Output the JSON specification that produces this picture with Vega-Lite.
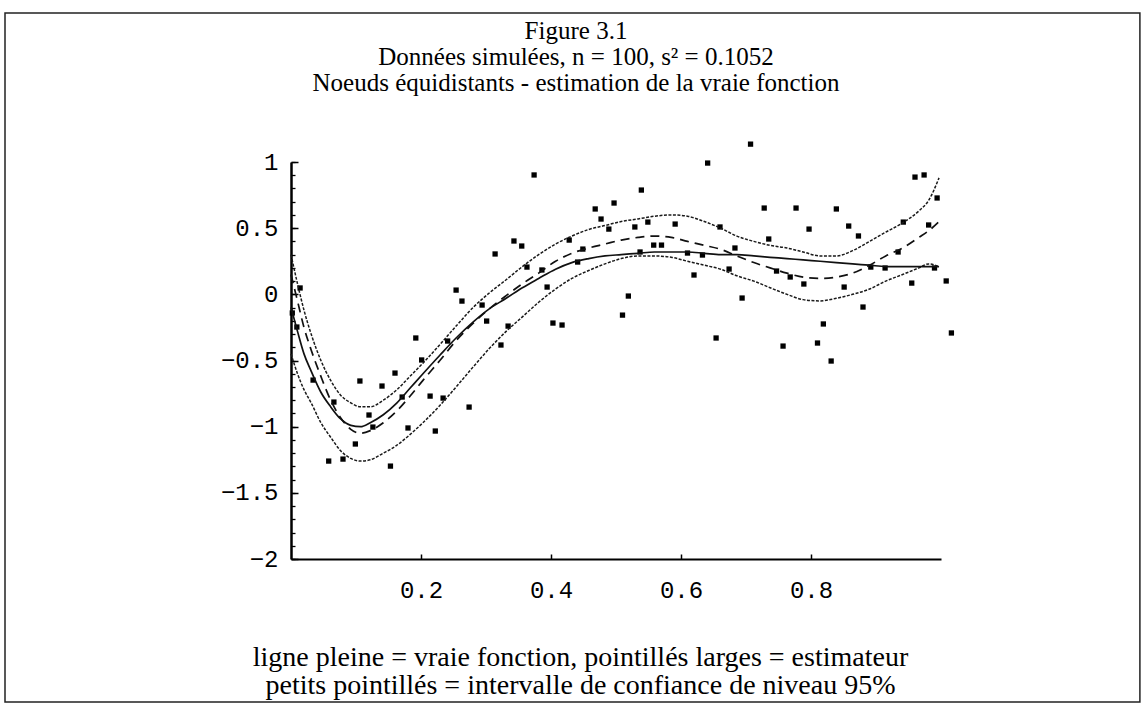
{
  "$schema": "https://vega.github.io/schema/vega-lite/v6.json",
  "width": 650,
  "height": 397,
  "autosize": "none",
  "padding": {"left": 291, "top": 162, "right": 204, "bottom": 145},
  "background": "white",
  "config": {"view": {"stroke": null}, "axis": {"grid": false}},
  "title": {
    "text": ["Figure 3.1", "Données simulées, n = 100, s² = 0.1052", "Noeuds équidistants - estimation de la vraie fonction"],
    "font": "Liberation Serif",
    "fontSize": 25,
    "fontWeight": "normal",
    "color": "black",
    "lineHeight": 26,
    "anchor": "middle",
    "dx": -40,
    "offset": -84
  },
  "datasets": {
    "courbes": [
      {"x": 0, "sup": 0.30, "vraie": -0.10, "est": 0.15, "inf": -0.45},
      {"x": 0.010, "sup": 0.08, "vraie": -0.28, "est": -0.05, "inf": -0.60},
      {"x": 0.020, "sup": -0.12, "vraie": -0.45, "est": -0.25, "inf": -0.72},
      {"x": 0.031, "sup": -0.30, "vraie": -0.58, "est": -0.42, "inf": -0.82},
      {"x": 0.046, "sup": -0.50, "vraie": -0.74, "est": -0.62, "inf": -0.97},
      {"x": 0.061, "sup": -0.65, "vraie": -0.85, "est": -0.80, "inf": -1.08},
      {"x": 0.076, "sup": -0.76, "vraie": -0.94, "est": -0.93, "inf": -1.18},
      {"x": 0.092, "sup": -0.82, "vraie": -0.99, "est": -1.02, "inf": -1.24},
      {"x": 0.107, "sup": -0.85, "vraie": -1.00, "est": -1.05, "inf": -1.26},
      {"x": 0.122, "sup": -0.85, "vraie": -0.97, "est": -1.03, "inf": -1.25},
      {"x": 0.142, "sup": -0.80, "vraie": -0.91, "est": -0.97, "inf": -1.20},
      {"x": 0.163, "sup": -0.72, "vraie": -0.82, "est": -0.88, "inf": -1.14},
      {"x": 0.183, "sup": -0.62, "vraie": -0.71, "est": -0.77, "inf": -1.06},
      {"x": 0.203, "sup": -0.52, "vraie": -0.60, "est": -0.65, "inf": -0.97},
      {"x": 0.229, "sup": -0.38, "vraie": -0.46, "est": -0.50, "inf": -0.84},
      {"x": 0.254, "sup": -0.24, "vraie": -0.33, "est": -0.35, "inf": -0.70},
      {"x": 0.280, "sup": -0.10, "vraie": -0.21, "est": -0.22, "inf": -0.55},
      {"x": 0.305, "sup": 0.01, "vraie": -0.11, "est": -0.11, "inf": -0.41},
      {"x": 0.331, "sup": 0.11, "vraie": -0.03, "est": -0.01, "inf": -0.28},
      {"x": 0.356, "sup": 0.21, "vraie": 0.05, "est": 0.08, "inf": -0.17},
      {"x": 0.381, "sup": 0.30, "vraie": 0.12, "est": 0.16, "inf": -0.06},
      {"x": 0.407, "sup": 0.38, "vraie": 0.19, "est": 0.25, "inf": 0.04},
      {"x": 0.432, "sup": 0.44, "vraie": 0.24, "est": 0.31, "inf": 0.12},
      {"x": 0.458, "sup": 0.49, "vraie": 0.27, "est": 0.35, "inf": 0.18},
      {"x": 0.483, "sup": 0.52, "vraie": 0.29, "est": 0.38, "inf": 0.23},
      {"x": 0.508, "sup": 0.55, "vraie": 0.30, "est": 0.41, "inf": 0.27},
      {"x": 0.534, "sup": 0.57, "vraie": 0.31, "est": 0.43, "inf": 0.29},
      {"x": 0.559, "sup": 0.59, "vraie": 0.32, "est": 0.44, "inf": 0.29},
      {"x": 0.585, "sup": 0.60, "vraie": 0.32, "est": 0.43, "inf": 0.28},
      {"x": 0.610, "sup": 0.59, "vraie": 0.32, "est": 0.40, "inf": 0.25},
      {"x": 0.636, "sup": 0.55, "vraie": 0.31, "est": 0.37, "inf": 0.22},
      {"x": 0.661, "sup": 0.50, "vraie": 0.30, "est": 0.34, "inf": 0.19},
      {"x": 0.686, "sup": 0.44, "vraie": 0.30, "est": 0.29, "inf": 0.14},
      {"x": 0.712, "sup": 0.40, "vraie": 0.29, "est": 0.24, "inf": 0.10},
      {"x": 0.737, "sup": 0.37, "vraie": 0.28, "est": 0.20, "inf": 0.05},
      {"x": 0.763, "sup": 0.35, "vraie": 0.27, "est": 0.16, "inf": 0.00},
      {"x": 0.788, "sup": 0.32, "vraie": 0.26, "est": 0.13, "inf": -0.04},
      {"x": 0.814, "sup": 0.29, "vraie": 0.25, "est": 0.12, "inf": -0.05},
      {"x": 0.839, "sup": 0.29, "vraie": 0.24, "est": 0.13, "inf": -0.03},
      {"x": 0.864, "sup": 0.33, "vraie": 0.23, "est": 0.16, "inf": 0.00},
      {"x": 0.890, "sup": 0.40, "vraie": 0.22, "est": 0.22, "inf": 0.04},
      {"x": 0.915, "sup": 0.47, "vraie": 0.21, "est": 0.29, "inf": 0.10},
      {"x": 0.941, "sup": 0.54, "vraie": 0.21, "est": 0.35, "inf": 0.15},
      {"x": 0.966, "sup": 0.63, "vraie": 0.21, "est": 0.43, "inf": 0.20},
      {"x": 0.981, "sup": 0.71, "vraie": 0.21, "est": 0.48, "inf": 0.23},
      {"x": 0.997, "sup": 0.88, "vraie": 0.21, "est": 0.55, "inf": 0.21}
    ],
    "points": [
      {"x": 0.374, "y": 0.902}, {"x": 0.314, "y": 0.305}, {"x": 0.343, "y": 0.403}, {"x": 0.355, "y": 0.365},
      {"x": 0.363, "y": 0.206}, {"x": 0.254, "y": 0.032}, {"x": 0.263, "y": -0.051}, {"x": 0.294, "y": -0.081},
      {"x": 0.301, "y": -0.202}, {"x": 0.334, "y": -0.240}, {"x": 0.323, "y": -0.383}, {"x": 0.403, "y": -0.217},
      {"x": 0.417, "y": -0.232}, {"x": 0.192, "y": -0.330}, {"x": 0.201, "y": -0.496}, {"x": 0.160, "y": -0.595},
      {"x": 0.140, "y": -0.693}, {"x": 0.106, "y": -0.655}, {"x": 0.234, "y": -0.784}, {"x": 0.214, "y": -0.769},
      {"x": 0.274, "y": -0.852}, {"x": 0.066, "y": -0.814}, {"x": 0.120, "y": -0.912}, {"x": 0.126, "y": -1.003},
      {"x": 0.180, "y": -1.010}, {"x": 0.222, "y": -1.033}, {"x": 0.014, "y": 0.048}, {"x": 0.002, "y": -0.141},
      {"x": 0.009, "y": -0.247}, {"x": 0.034, "y": -0.648}, {"x": 0.386, "y": 0.184}, {"x": 0.099, "y": -1.131},
      {"x": 0.058, "y": -1.260}, {"x": 0.080, "y": -1.245}, {"x": 0.153, "y": -1.298}, {"x": 0.707, "y": 1.135},
      {"x": 0.641, "y": 0.992}, {"x": 0.539, "y": 0.788}, {"x": 0.497, "y": 0.690}, {"x": 0.468, "y": 0.645},
      {"x": 0.477, "y": 0.569}, {"x": 0.489, "y": 0.493}, {"x": 0.529, "y": 0.509}, {"x": 0.549, "y": 0.546},
      {"x": 0.591, "y": 0.531}, {"x": 0.558, "y": 0.372}, {"x": 0.570, "y": 0.372}, {"x": 0.610, "y": 0.312},
      {"x": 0.633, "y": 0.297}, {"x": 0.660, "y": 0.509}, {"x": 0.683, "y": 0.350}, {"x": 0.735, "y": 0.418},
      {"x": 0.728, "y": 0.652}, {"x": 0.777, "y": 0.652}, {"x": 0.839, "y": 0.645}, {"x": 0.797, "y": 0.493},
      {"x": 0.858, "y": 0.516}, {"x": 0.873, "y": 0.441}, {"x": 0.960, "y": 0.886}, {"x": 0.974, "y": 0.902},
      {"x": 0.994, "y": 0.728}, {"x": 0.981, "y": 0.524}, {"x": 0.942, "y": 0.546}, {"x": 0.934, "y": 0.320},
      {"x": 0.892, "y": 0.206}, {"x": 0.914, "y": 0.199}, {"x": 0.955, "y": 0.085}, {"x": 1.008, "y": 0.101},
      {"x": 1.016, "y": -0.292}, {"x": 0.880, "y": -0.096}, {"x": 0.851, "y": 0.055}, {"x": 0.789, "y": 0.078},
      {"x": 0.747, "y": 0.176}, {"x": 0.768, "y": 0.131}, {"x": 0.674, "y": 0.191}, {"x": 0.620, "y": 0.146},
      {"x": 0.694, "y": -0.028}, {"x": 0.519, "y": -0.013}, {"x": 0.510, "y": -0.157}, {"x": 0.654, "y": -0.330},
      {"x": 0.757, "y": -0.391}, {"x": 0.810, "y": -0.368}, {"x": 0.819, "y": -0.224}, {"x": 0.831, "y": -0.504},
      {"x": 0.449, "y": 0.342}, {"x": 0.428, "y": 0.410}, {"x": 0.394, "y": 0.055}, {"x": 0.171, "y": -0.776},
      {"x": 0.241, "y": -0.353}, {"x": 0.441, "y": 0.244}, {"x": 0.537, "y": 0.320}, {"x": 0.990, "y": 0.199}
    ],
    "cadre": [{"gauche": -0.44, "droite": 1.306, "haut": 2.126, "bas": -3.08}]
  },
  "layer": [
    {
      "data": {"name": "cadre"},
      "mark": {"type": "rect", "filled": false, "stroke": "#222", "strokeWidth": 1.5},
      "encoding": {
        "x": {"field": "gauche", "type": "quantitative"},
        "x2": {"field": "droite"},
        "y": {"field": "haut", "type": "quantitative", "axis": null},
        "y2": {"field": "bas"}
      }
    },
    {
      "data": {"name": "points"},
      "mark": {"type": "point", "shape": "square", "filled": true, "size": 28, "color": "black", "opacity": 1},
      "encoding": {
        "x": {
          "field": "x", "type": "quantitative",
          "scale": {"domain": [0, 1], "nice": false, "zero": false},
          "axis": {
            "orient": "bottom",
            "values": [0.2, 0.4, 0.6, 0.8],
            "format": "~g",
            "tickSize": -5, "tickWidth": 1.5, "tickColor": "black",
            "domainColor": "black", "domainWidth": 2,
            "labelFont": "Liberation Mono", "labelFontSize": 24, "labelColor": "black", "labelPadding": 24,
            "title": ["ligne pleine = vraie fonction, pointillés larges = estimateur", "petits pointillés = intervalle de confiance de niveau 95%"],
            "titleFont": "Liberation Serif", "titleFontSize": 28, "titleFontWeight": "normal", "titleColor": "black",
            "titleLineHeight": 28, "titleX": 289, "titleY": 84, "titleAlign": "center", "titleBaseline": "top"
          }
        },
        "y": {
          "field": "y", "type": "quantitative",
          "scale": {"domain": [-2, 1], "nice": false, "zero": false},
          "axis": {
            "orient": "left",
            "values": [-2, -1.5, -1, -0.5, 0, 0.5, 1],
            "format": "~g",
            "tickSize": -7, "tickWidth": 1.5, "tickColor": "black",
            "domainColor": "black", "domainWidth": 2.5,
            "labelFont": "Liberation Mono", "labelFontSize": 24, "labelColor": "black", "labelPadding": 20,
            "title": null
          }
        }
      }
    },
    {
      "data": {"name": "courbes"},
      "mark": {"type": "line", "interpolate": "monotone", "stroke": "#1a1a1a", "strokeWidth": 1.5, "strokeDash": [3, 1.5]},
      "encoding": {
        "x": {"field": "x", "type": "quantitative"},
        "y": {
          "field": "inf", "type": "quantitative",
          "axis": {
            "orient": "left",
            "values": [-2, -1.9, -1.8, -1.7, -1.6, -1.5, -1.4, -1.3, -1.2, -1.1, -1, -0.9, -0.8, -0.7, -0.6, -0.5, -0.4, -0.3, -0.2, -0.1, 0, 0.1, 0.2, 0.3, 0.4, 0.5, 0.6, 0.7, 0.8, 0.9, 1],
            "labels": false, "domain": false,
            "tickSize": -4, "tickWidth": 1.3, "tickColor": "black",
            "title": null
          }
        }
      }
    },
    {
      "data": {"name": "courbes"},
      "mark": {"type": "line", "interpolate": "monotone", "stroke": "#1a1a1a", "strokeWidth": 1.5, "strokeDash": [3, 1.5]},
      "encoding": {
        "x": {"field": "x", "type": "quantitative"},
        "y": {"field": "sup", "type": "quantitative", "axis": null}
      }
    },
    {
      "data": {"name": "courbes"},
      "mark": {"type": "line", "interpolate": "monotone", "stroke": "#111", "strokeWidth": 1.7, "strokeDash": [9, 6]},
      "encoding": {
        "x": {"field": "x", "type": "quantitative"},
        "y": {"field": "est", "type": "quantitative", "axis": null}
      }
    },
    {
      "data": {"name": "courbes"},
      "mark": {"type": "line", "interpolate": "monotone", "stroke": "#111", "strokeWidth": 1.7},
      "encoding": {
        "x": {"field": "x", "type": "quantitative"},
        "y": {"field": "vraie", "type": "quantitative", "axis": null}
      }
    }
  ],
  "resolve": {"axis": {"y": "independent"}}
}
